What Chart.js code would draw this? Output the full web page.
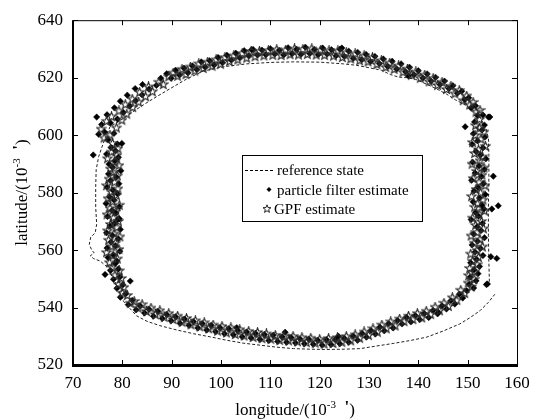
<!DOCTYPE html>
<html>
<head>
<meta charset="utf-8">
<script src="https://cdn.jsdelivr.net/npm/chart.js@4"></script>
<style>
  html, body { margin: 0; padding: 0; background: #fff; }
  #wrap { width: 540px; height: 419px; }
</style>
</head>
<body>
<div id="wrap"><canvas id="trackChart" width="540" height="419"></canvas></div>
<script>
// axis ticks
const lonTicks = [70, 80, 90, 100, 110, 120, 130, 140, 150, 160];
const latTicks = [520, 540, 560, 580, 600, 620, 640];

// reference state (dashed trajectory)
const refLon = [154.4, 154.3, 154.2, 154.2, 154.3, 154.3, 154.2, 153.6, 152.5, 151.0, 149.1, 147.5, 145.7, 143.7, 141.7, 139.5, 137.6, 136.0, 134.3, 132.5, 130.2, 127.5, 124.8, 120.0, 114.7, 110.0, 105.2, 100.5, 96.4, 93.0, 89.5, 85.6, 82.0, 79.5, 77.5, 76.1, 75.2, 74.7, 74.6, 74.6, 74.8, 74.5, 73.6, 73.3, 73.8, 74.3, 73.5, 74.2, 75.5, 76.8, 78.5, 80.3, 82.9, 85.0, 87.6, 91.0, 94.4, 97.8, 101.2, 104.5, 107.9, 111.3, 114.7, 118.0, 121.4, 125.0, 128.2, 131.5, 134.9, 138.3, 141.7, 145.0, 148.4, 150.5, 152.5, 154.2, 155.5];
const refLat = [549.0, 556.0, 565.0, 575.0, 585.0, 593.0, 599.0, 603.0, 606.0, 608.8, 610.9, 612.3, 614.3, 616.1, 617.7, 619.4, 620.0, 620.2, 621.1, 622.6, 623.4, 624.3, 624.8, 625.4, 625.5, 625.3, 624.8, 623.8, 622.3, 619.5, 616.0, 612.0, 608.0, 605.0, 602.9, 597.0, 592.5, 588.0, 582.0, 575.0, 569.0, 566.0, 564.5, 562.0, 560.0, 559.0, 558.0, 557.0, 556.2, 554.3, 549.0, 542.0, 537.1, 535.2, 533.7, 532.2, 530.9, 529.8, 528.6, 527.6, 526.9, 526.2, 525.7, 525.5, 525.4, 525.5, 525.7, 526.6, 527.5, 528.5, 529.7, 531.8, 534.3, 536.5, 538.9, 541.8, 544.6];

// particle filter estimate (left side, top-left, top, right side, bottom, stray points)
const pfLon = [
  78.9, 77.1, 78.2, 79.5, 76.9, 78.6, 77.7, 79.2, 78.0, 76.8, 79.6, 77.5, 78.4, 79.1, 77.0, 78.7, 77.9, 79.4, 76.7, 78.3, 77.4, 79.0, 78.1, 76.9, 79.3, 77.6, 78.8, 77.2, 79.7, 78.0, 77.3, 78.5, 79.2, 76.8, 78.6, 77.7, 79.0,
  77.1, 75.2, 76.4, 78.3, 75.8, 77.6, 79.0, 76.9, 80.2, 78.4, 81.5, 79.6, 82.7, 81.0, 84.0, 82.6, 85.4, 84.1, 86.9, 87.8,
  89.0, 89.9, 90.8, 91.6, 92.5, 93.3, 94.2, 95.1, 96.0, 96.8, 97.7, 98.6, 99.4, 100.3, 101.2, 102.1, 103.0, 103.8, 104.7, 105.6,
  106.5, 107.4, 108.3, 109.1, 110.0, 110.9, 111.8, 112.7, 113.6, 114.4, 115.3, 116.2, 117.1, 118.0, 118.9, 119.7, 120.6, 121.5, 122.4, 123.3,
  124.1, 125.0, 125.9, 126.8, 127.7, 128.5, 129.4, 130.3, 131.2, 132.1, 132.9, 133.8, 134.7, 135.6, 136.5, 137.4, 138.2, 139.1, 140.0, 140.9,
  141.8, 142.6, 143.5, 144.4, 145.3, 146.2, 147.0, 147.9, 148.8, 149.4, 150.2, 150.7, 151.6, 152.0, 153.1, 151.4, 153.4,
  152.9, 151.2, 153.5, 152.0, 150.9, 153.1, 151.7, 152.6, 153.7, 151.0, 152.3, 153.4, 151.5, 152.8, 150.8, 153.2, 152.1, 151.3, 153.6, 152.4,
  151.1, 152.9, 153.3, 151.6, 152.2, 150.7, 153.0, 151.9, 152.7, 151.2, 153.4, 152.0, 150.9, 152.6, 151.5, 153.1, 151.8, 150.6, 152.4, 151.3,
  152.1, 150.5, 151.7, 150.3, 151.2,
  149.8, 149.0, 148.3, 147.4, 146.6, 145.7, 144.8, 143.9, 143.0, 142.1, 141.2, 140.3, 139.4, 138.5, 137.6, 136.7, 135.8, 134.9, 134.0, 133.1,
  132.2, 131.3, 130.4, 129.5, 128.6, 127.7, 126.8, 125.9, 125.0, 124.1, 123.2, 122.3, 121.4, 120.5, 119.6, 118.7, 117.8, 116.9, 116.0, 115.1,
  114.2, 113.3, 112.4, 111.5, 110.6, 109.7, 108.8, 107.9, 107.0, 106.1, 105.2, 104.3, 103.4, 102.5, 101.6, 100.7, 99.8, 98.9, 98.0, 97.1,
  96.2, 95.3, 94.4, 93.5, 92.6, 91.7, 90.8, 89.9, 89.0, 88.1, 87.2, 86.3, 85.4, 84.5, 83.6, 82.8, 82.0, 81.2, 80.7, 79.6,
  80.1, 78.9, 79.5, 78.2, 79.2, 77.6, 78.6,
  74.1, 79.9, 79.4, 76.5, 81.6, 106.2, 124.5, 138.0, 154.5, 149.5, 154.2, 155.2, 156.2, 154.9, 155.9, 154.7, 154.0, 153.8, 113.0, 103.2, 123.8, 144.1, 74.8
];
const pfLat = [
  556.2, 557.4, 558.3, 559.6, 560.7, 561.5, 562.8, 563.9, 565.1, 566.0, 567.2, 568.4, 569.3, 570.6, 571.7, 572.9, 573.8, 575.1, 576.2, 577.4, 578.5, 579.6, 580.8, 581.9, 583.1, 584.2, 585.4, 586.5, 587.6, 588.8, 589.9, 591.1, 592.3, 593.4, 594.6, 595.7, 596.9,
  598.4, 600.3, 601.1, 600.6, 603.7, 604.2, 605.6, 607.1, 607.9, 609.5, 610.1, 611.8, 612.0, 613.9, 614.0, 616.2, 616.0, 617.6, 617.3, 619.8,
  621.4, 619.8, 622.6, 620.9, 623.3, 621.7, 624.1, 622.8, 625.5, 623.6, 625.9, 624.4, 627.0, 625.2, 627.8, 626.1, 628.5, 626.9, 629.4, 627.6,
  629.8, 627.9, 629.6, 628.0, 630.1, 628.2, 629.5, 627.9, 630.4, 628.3, 629.9, 628.1, 630.6, 628.4, 629.8, 628.0, 630.3, 628.2, 629.7, 627.6,
  629.9, 627.4, 629.2, 626.7, 628.8, 626.2, 628.1, 625.6, 627.4, 624.9, 626.5, 623.9, 625.7, 623.0, 624.8, 622.1, 623.6, 621.0, 622.4, 619.9,
  621.3, 618.8, 620.1, 617.6, 618.8, 616.2, 617.2, 614.6, 615.3, 612.3, 613.0, 609.4, 610.2, 606.8, 607.0, 604.6, 603.5,
  601.8, 600.6, 599.3, 598.0, 596.8, 595.6, 594.3, 593.1, 591.8, 590.6, 589.3, 588.1, 586.8, 585.6, 584.3, 583.1, 581.8, 580.6, 579.3, 578.1,
  576.8, 575.6, 574.3, 573.1, 571.8, 570.6, 569.3, 568.1, 566.8, 565.6, 564.3, 563.1, 561.8, 560.6, 559.3, 558.1, 556.8, 555.6, 554.3, 553.1,
  551.8, 550.6, 549.3, 548.1, 546.8,
  545.9, 543.3, 544.6, 541.2, 542.4, 539.5, 540.6, 537.8, 539.0, 536.5, 537.9, 535.8, 537.2, 535.0, 536.6, 534.3, 535.5, 532.9, 534.4, 531.9,
  533.2, 530.8, 532.0, 529.7, 531.0, 528.6, 530.1, 527.9, 529.3, 527.4, 528.9, 527.1, 528.8, 526.9, 528.6, 527.2, 529.0, 527.4, 529.1, 527.7,
  529.6, 527.9, 529.8, 528.2, 530.4, 528.5, 530.6, 528.9, 531.0, 529.4, 531.5, 529.8, 532.0, 530.5, 532.6, 530.9, 533.0, 531.6, 533.8, 532.2,
  534.4, 532.9, 535.1, 533.8, 536.0, 534.5, 536.8, 535.4, 537.6, 536.2, 538.7, 537.0, 539.4, 538.1, 540.6, 539.2, 542.5, 541.0, 544.8, 543.6,
  547.9, 546.7, 550.6, 549.8, 553.4, 552.9, 555.3,
  593.1, 597.1, 570.9, 551.5, 549.2, 629.7, 630.3, 620.6, 606.3, 602.9, 606.3, 585.7, 575.4, 574.3, 557.1, 557.7, 548.2, 548.0, 531.4, 533.0, 530.0, 538.3, 606.3
];

// GPF estimate (left side, top-left, top, right side, bottom)
const gpfLon = [
  77.4, 79.0, 78.1, 76.8, 79.3, 77.9, 78.6, 77.2, 79.5, 78.3, 77.0, 78.9, 77.6, 79.2, 78.2, 76.9, 78.7, 77.5, 79.4, 78.0, 77.1, 78.8, 77.8, 79.1, 76.8, 78.4, 77.3, 79.0, 78.1, 77.6, 79.3, 78.5, 77.0, 78.9, 77.8, 79.1,
  78.0, 76.3, 77.5, 75.7, 78.8, 76.8, 79.9, 77.8, 80.9, 79.3, 82.1, 80.6, 83.3, 82.0, 84.7, 83.5, 86.1, 85.3, 87.4, 88.3,
  89.4, 90.3, 91.2, 92.1, 92.9, 93.8, 94.7, 95.5, 96.4, 97.3, 98.2, 99.0, 99.9, 100.8, 101.7, 102.6, 103.4, 104.3, 105.2, 106.1,
  106.9, 107.8, 108.7, 109.6, 110.5, 111.3, 112.2, 113.1, 114.0, 114.9, 115.7, 116.6, 117.5, 118.4, 119.3, 120.2, 121.0, 121.9, 122.8, 123.7,
  124.6, 125.4, 126.3, 127.2, 128.1, 129.0, 129.8, 130.7, 131.6, 132.5, 133.4, 134.2, 135.1, 136.0, 136.9, 137.8, 138.6, 139.5, 140.4, 141.3,
  142.2, 143.0, 143.9, 144.8, 145.7, 146.6, 147.4, 148.3, 149.1, 149.8, 150.4, 151.1, 151.7, 152.5, 152.4, 151.6,
  152.4, 153.3, 151.5, 152.7, 151.0, 153.6, 152.2, 151.4, 153.0, 152.5, 150.9, 153.3, 151.8, 152.9, 151.1, 152.3, 153.5, 151.7, 152.6, 150.8,
  153.1, 152.0, 151.4, 153.4, 152.3, 151.0, 152.8, 151.6, 153.2, 151.9, 150.7, 152.5, 151.3, 153.0, 151.9, 150.6, 152.2, 151.0, 151.9, 150.4,
  151.4, 150.2,
  151.3, 150.1, 150.8, 149.4, 148.6, 147.8, 146.9, 146.1, 145.2, 144.3, 143.4, 142.5, 141.6, 140.7, 139.8, 138.9, 138.0, 137.1, 136.2, 135.3,
  134.4, 133.5, 132.6, 131.7, 130.8, 129.9, 129.0, 128.1, 127.2, 126.3, 125.4, 124.5, 123.6, 122.7, 121.8, 120.9, 120.0, 119.1, 118.2, 117.3,
  116.4, 115.5, 114.6, 113.7, 112.8, 111.9, 111.0, 110.1, 109.2, 108.3, 107.4, 106.5, 105.6, 104.7, 103.8, 102.9, 102.0, 101.1, 100.2, 99.3,
  98.4, 97.5, 96.6, 95.7, 94.8, 93.9, 93.0, 92.1, 91.2, 90.3, 89.4, 88.5, 87.6, 86.7, 85.8, 84.9, 84.0, 83.2, 82.4, 81.6,
  81.0, 80.0, 80.3, 79.2, 79.8, 78.5, 79.4, 77.9
];
const gpfLat = [
  555.6, 556.9, 558.0, 559.1, 560.2, 561.2, 562.4, 563.4, 564.6, 565.6, 566.7, 567.8, 568.9, 570.0, 571.2, 572.3, 573.4, 574.5, 575.6, 576.8, 577.9, 579.0, 580.2, 581.3, 582.4, 583.6, 584.7, 585.8, 587.0, 588.2, 589.4, 590.6, 591.8, 593.0, 594.1, 595.3,
  597.1, 599.0, 600.0, 602.1, 602.5, 604.8, 605.2, 606.4, 607.3, 608.4, 609.6, 610.6, 611.5, 612.5, 613.4, 614.9, 615.1, 616.8, 618.4, 617.6,
  620.3, 621.6, 620.5, 622.9, 621.1, 623.7, 622.3, 624.8, 623.2, 625.4, 624.0, 626.2, 624.7, 627.0, 625.6, 627.6, 626.2, 628.4, 626.8, 629.1,
  627.3, 629.2, 627.6, 629.4, 627.8, 629.7, 627.7, 629.6, 628.0, 630.0, 627.9, 629.8, 628.1, 630.0, 627.9, 629.6, 627.8, 629.4, 627.5, 629.3,
  627.0, 628.7, 626.5, 628.3, 625.9, 627.6, 625.5, 627.0, 624.6, 625.9, 623.6, 625.1, 622.9, 624.1, 621.9, 623.0, 620.9, 622.0, 619.8, 620.9,
  618.6, 619.7, 617.3, 618.4, 615.9, 617.0, 614.4, 615.5, 612.0, 613.6, 610.5, 611.4, 608.0, 608.6, 605.4, 603.3,
  602.4, 601.1, 599.9, 598.6, 597.4, 596.1, 594.9, 593.6, 592.4, 591.1, 589.9, 588.6, 587.4, 586.1, 584.9, 583.6, 582.4, 581.1, 579.9, 578.6,
  577.4, 576.1, 574.9, 573.6, 572.4, 571.1, 569.9, 568.6, 567.4, 566.1, 564.9, 563.6, 562.4, 561.1, 559.9, 558.6, 557.4, 556.1, 554.9, 553.6,
  552.4, 551.1,
  549.8, 548.5, 547.2, 544.9, 546.0, 542.5, 543.4, 540.4, 541.5, 538.9, 540.1, 537.6, 538.7, 536.4, 537.9, 535.8, 537.0, 535.1, 536.0, 533.6,
  535.0, 532.6, 533.9, 531.4, 532.6, 530.3, 531.5, 529.3, 530.5, 528.4, 529.9, 527.9, 529.5, 527.5, 529.2, 527.3, 528.9, 527.6, 529.3, 527.8,
  529.5, 528.1, 529.9, 528.4, 530.1, 528.6, 530.3, 529.0, 530.8, 529.2, 531.3, 529.6, 531.7, 530.1, 532.3, 530.6, 532.9, 531.2, 533.4, 531.8,
  533.9, 532.6, 534.7, 533.3, 535.4, 534.0, 536.2, 534.9, 537.0, 535.8, 537.9, 536.6, 538.9, 537.5, 539.8, 538.6, 541.0, 539.8, 542.1, 541.5,
  544.2, 545.0, 547.0, 548.0, 550.1, 551.2, 552.8, 554.0
];

const serif = "'Liberation Serif', 'Times New Roman', serif";

function toPoints(xs, ys) {
  return xs.map((x, i) => ({ x: x, y: ys[i] }));
}

// hollow five point star used for the GPF markers
function makeStar(size, color, lw) {
  const c = document.createElement("canvas");
  c.width = size;
  c.height = size;
  const g = c.getContext("2d");
  const r1 = size / 2 - 0.8, r2 = r1 * 0.42, m = size / 2;
  g.beginPath();
  for (let k = 0; k < 10; k++) {
    const r = k % 2 ? r2 : r1;
    const a = -Math.PI / 2 + k * Math.PI / 5;
    const px = m + r * Math.cos(a), py = m + r * Math.sin(a);
    if (k === 0) g.moveTo(px, py); else g.lineTo(px, py);
  }
  g.closePath();
  g.strokeStyle = color;
  g.lineWidth = lw;
  g.stroke();
  return c;
}
const starImg = makeStar(11, "#2a2a2a", 1.1);
const legendStar = makeStar(10, "#222", 1);

// text with a superscript part, e.g. longitude/(10^-3 ')
function drawSupText(ctx, parts, cx, cy, angle) {
  ctx.save();
  ctx.translate(cx, cy);
  ctx.rotate(angle);
  ctx.textBaseline = "alphabetic";
  ctx.textAlign = "left";
  let total = 0;
  parts.forEach(p => { ctx.font = p.font; total += ctx.measureText(p.t).width; });
  let x = -total / 2;
  parts.forEach(p => {
    ctx.font = p.font;
    ctx.fillStyle = "#000";
    ctx.fillText(p.t, x, 6 - (p.rise || 0));
    x += ctx.measureText(p.t).width;
  });
  ctx.restore();
}

function titleParts(word) {
  return [
    { t: word + "/(10", font: "17px " + serif },
    { t: "-3", font: "11px " + serif, rise: 7 },
    { t: "  ", font: "17px " + serif },
    { t: "'", font: "bold 17px " + serif, rise: 3 },
    { t: ")", font: "17px " + serif }
  ];
}

const framePlugin = {
  id: "frame",
  afterDraw(chart) {
    const ctx = chart.ctx;
    const a = chart.chartArea;
    const xs = chart.scales.x, ys = chart.scales.y;
    ctx.save();
    ctx.strokeStyle = "#000";
    ctx.lineWidth = 1;
    // inward ticks on all four sides
    ctx.beginPath();
    xs.ticks.forEach(t => {
      const px = Math.round(xs.getPixelForValue(t.value)) + 0.5;
      ctx.moveTo(px, a.bottom); ctx.lineTo(px, a.bottom - 5);
      ctx.moveTo(px, a.top); ctx.lineTo(px, a.top + 5);
    });
    ys.ticks.forEach(t => {
      const py = Math.round(ys.getPixelForValue(t.value)) + 0.5;
      ctx.moveTo(a.left, py); ctx.lineTo(a.left + 5, py);
      ctx.moveTo(a.right, py); ctx.lineTo(a.right - 5, py);
    });
    ctx.stroke();
    // box, heavier on left and bottom
    ctx.beginPath();
    ctx.moveTo(a.left, a.top + 0.5); ctx.lineTo(a.right + 0.5, a.top + 0.5);
    ctx.lineTo(a.right + 0.5, a.bottom);
    ctx.stroke();
    ctx.fillStyle = "#000";
    ctx.fillRect(a.left - 1, a.top, 2, a.bottom - a.top + 1);
    ctx.fillRect(a.left - 1, a.bottom - 1, a.right - a.left + 2, 3);

    // axis titles
    drawSupText(ctx, titleParts("longitude"), (a.left + a.right) / 2, 409, 0);
    drawSupText(ctx, titleParts("latitude"), 21, (a.top + a.bottom) / 2, -Math.PI / 2);

    // legend box
    const lx = 242, ly = 155, lw = 180, lh = 66;
    ctx.fillStyle = "#fff";
    ctx.fillRect(lx, ly, lw, lh);
    ctx.strokeStyle = "#000";
    ctx.lineWidth = 1;
    ctx.strokeRect(lx + 0.5, ly + 0.5, lw, lh);
    ctx.font = "15px " + serif;
    ctx.fillStyle = "#000";
    ctx.textAlign = "left";
    ctx.textBaseline = "alphabetic";
    ctx.setLineDash([3, 2]);
    ctx.beginPath();
    ctx.moveTo(245, 170.5); ctx.lineTo(275, 170.5);
    ctx.stroke();
    ctx.setLineDash([]);
    ctx.fillText("reference state", 277, 175);
    ctx.beginPath();
    ctx.moveTo(269, 187); ctx.lineTo(271.5, 189.5); ctx.lineTo(269, 192); ctx.lineTo(266.5, 189.5);
    ctx.closePath();
    ctx.fill();
    ctx.fillText("particle filter estimate", 277, 195);
    ctx.drawImage(legendStar, 262, 204);
    ctx.fillText("GPF estimate", 274, 214);
    ctx.restore();
  }
};

const ctx = document.getElementById("trackChart").getContext("2d");
const trackChart = new Chart(ctx, {
  type: "scatter",
  data: {
    datasets: [
      {
        label: "reference state",
        type: "line",
        data: toPoints(refLon, refLat),
        borderColor: "#222",
        borderWidth: 1,
        borderDash: [3, 2],
        pointRadius: 0,
        fill: false,
        tension: 0,
        order: 3
      },
      {
        label: "particle filter estimate",
        data: toPoints(pfLon, pfLat),
        pointStyle: "rectRot",
        pointRadius: 3.2,
        backgroundColor: "#000",
        borderColor: "#000",
        borderWidth: 0.5,
        order: 2
      },
      {
        label: "GPF estimate",
        data: toPoints(gpfLon, gpfLat),
        pointStyle: starImg,
        pointRadius: 5.5,
        order: 1
      }
    ]
  },
  options: {
    responsive: false,
    animation: false,
    events: [],
    layout: { padding: { left: 0, right: 23, top: 15, bottom: 0 } },
    plugins: { legend: { display: false }, tooltip: { enabled: false } },
    scales: {
      x: {
        type: "linear",
        min: lonTicks[0],
        max: lonTicks[lonTicks.length - 1],
        afterBuildTicks: s => { s.ticks = lonTicks.map(v => ({ value: v })); },
        afterFit: s => { s.height = 54; },
        grid: { display: false, drawTicks: false },
        border: { display: false },
        ticks: { color: "#000", font: { family: serif, size: 17 }, padding: 8, maxRotation: 0 }
      },
      y: {
        type: "linear",
        min: latTicks[0],
        max: latTicks[latTicks.length - 1],
        afterBuildTicks: s => { s.ticks = latTicks.map(v => ({ value: v })); },
        afterFit: s => { s.width = 73; },
        grid: { display: false, drawTicks: false },
        border: { display: false },
        ticks: { color: "#000", font: { family: serif, size: 17 }, padding: 10 }
      }
    }
  },
  plugins: [framePlugin]
});
</script>
</body>
</html>
